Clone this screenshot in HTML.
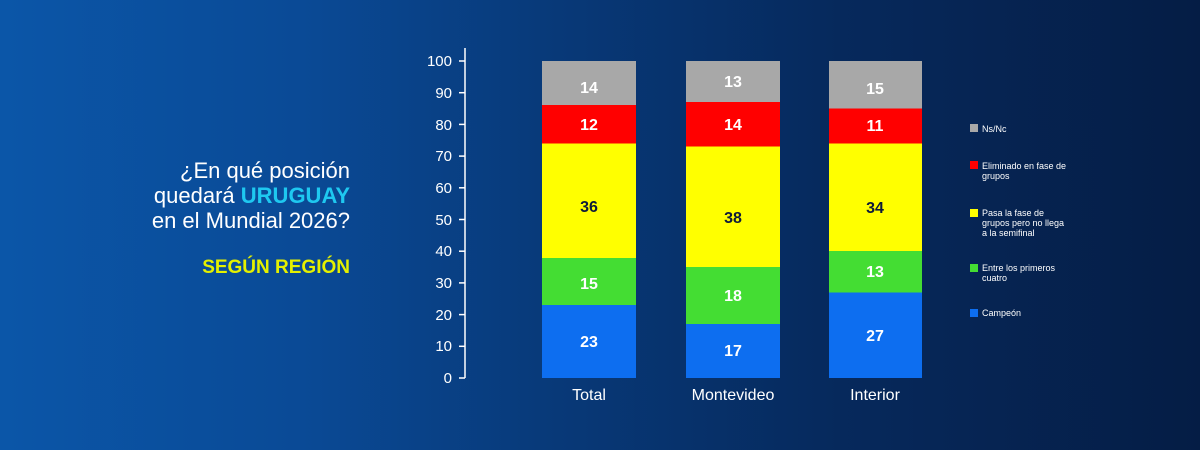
<!DOCTYPE html>
<html><head><meta charset="utf-8"><style>
html,body{margin:0;padding:0}
body{width:1200px;height:450px;overflow:hidden;font-family:"Liberation Sans",sans-serif;
background:linear-gradient(90deg,#0b56a8 0%,#0a4a96 25%,#083a7a 45%,#06295c 70%,#051d45 100%);position:relative}
.t{position:absolute;right:850px;text-align:right;color:#fff;font-size:22px;white-space:nowrap}
</style></head><body>
<div class="t" style="top:158px">¿En qué posición</div>
<div class="t" style="top:183px">quedará <b style="color:#1ec8f0">URUGUAY</b></div>
<div class="t" style="top:208px">en el Mundial 2026?</div>
<div class="t" style="top:257px;font-size:19px;font-weight:bold;color:#e4f000">SEGÚN REGIÓN</div>
<svg width="1200" height="450" style="position:absolute;left:0;top:0" font-family="Liberation Sans, sans-serif">
<g stroke="#fff" stroke-width="1.5">
<line x1="465" y1="48" x2="465" y2="378"/>
<line x1="459" y1="61" x2="465" y2="61"/><line x1="459" y1="92.7" x2="465" y2="92.7"/><line x1="459" y1="124.4" x2="465" y2="124.4"/><line x1="459" y1="156.1" x2="465" y2="156.1"/><line x1="459" y1="187.8" x2="465" y2="187.8"/><line x1="459" y1="219.5" x2="465" y2="219.5"/><line x1="459" y1="251.2" x2="465" y2="251.2"/><line x1="459" y1="282.9" x2="465" y2="282.9"/><line x1="459" y1="314.6" x2="465" y2="314.6"/><line x1="459" y1="346.3" x2="465" y2="346.3"/><line x1="459" y1="378" x2="465" y2="378"/>
</g>
<g fill="#fff" font-size="15" text-anchor="end">
<text x="452" y="66">100</text><text x="452" y="98">90</text><text x="452" y="130">80</text><text x="452" y="161">70</text><text x="452" y="193">60</text><text x="452" y="225">50</text><text x="452" y="256">40</text><text x="452" y="288">30</text><text x="452" y="320">20</text><text x="452" y="351">10</text><text x="452" y="383">0</text>
</g>
<!-- Total -->
<rect x="542" y="305" width="94" height="73" fill="#0d6ef0"/>
<rect x="542" y="258" width="94" height="47" fill="#44dd33"/>
<rect x="542" y="143.5" width="94" height="114.5" fill="#ffff00"/>
<rect x="542" y="105" width="94" height="38.5" fill="#ff0000"/>
<rect x="542" y="61" width="94" height="44" fill="#a8a8a8"/>
<!-- Montevideo -->
<rect x="686" y="324" width="94" height="54" fill="#0d6ef0"/>
<rect x="686" y="267" width="94" height="57" fill="#44dd33"/>
<rect x="686" y="146.5" width="94" height="120.5" fill="#ffff00"/>
<rect x="686" y="102" width="94" height="44.5" fill="#ff0000"/>
<rect x="686" y="61" width="94" height="41" fill="#a8a8a8"/>
<!-- Interior -->
<rect x="829" y="292.5" width="93" height="85.5" fill="#0d6ef0"/>
<rect x="829" y="251" width="93" height="41.5" fill="#44dd33"/>
<rect x="829" y="143.5" width="93" height="107.5" fill="#ffff00"/>
<rect x="829" y="108.5" width="93" height="35" fill="#ff0000"/>
<rect x="829" y="61" width="93" height="47.5" fill="#a8a8a8"/>
<g font-size="16" font-weight="bold" text-anchor="middle" fill="#fff">
<text x="589" y="93">14</text><text x="589" y="130">12</text><text x="589" y="289" >15</text><text x="589" y="347">23</text>
<text x="733" y="87">13</text><text x="733" y="130">14</text><text x="733" y="301">18</text><text x="733" y="356">17</text>
<text x="875" y="94">15</text><text x="875" y="131">11</text><text x="875" y="277">13</text><text x="875" y="341">27</text>
<g fill="#0d1a3a"><text x="589" y="212">36</text><text x="733" y="223">38</text><text x="875" y="213">34</text></g>
</g>
<g fill="#fff" font-size="16" text-anchor="middle">
<text x="589" y="400">Total</text><text x="733" y="400">Montevideo</text><text x="875" y="400">Interior</text>
</g>
<rect x="970" y="124" width="8" height="8" fill="#a8a8a8"/>
<rect x="970" y="161" width="8" height="8" fill="#ff0000"/>
<rect x="970" y="209" width="8" height="8" fill="#ffff00"/>
<rect x="970" y="264" width="8" height="8" fill="#44dd33"/>
<rect x="970" y="309" width="8" height="8" fill="#0d6ef0"/>
<g fill="#fff" font-size="9">
<text x="982" y="132">Ns/Nc</text>
<text x="982" y="169">Eliminado en fase de</text><text x="982" y="179">grupos</text>
<text x="982" y="216">Pasa la fase de</text><text x="982" y="226">grupos pero no llega</text><text x="982" y="236">a la semifinal</text>
<text x="982" y="271">Entre los primeros</text><text x="982" y="281">cuatro</text>
<text x="982" y="316">Campeón</text>
</g>
</svg>
</body></html>
